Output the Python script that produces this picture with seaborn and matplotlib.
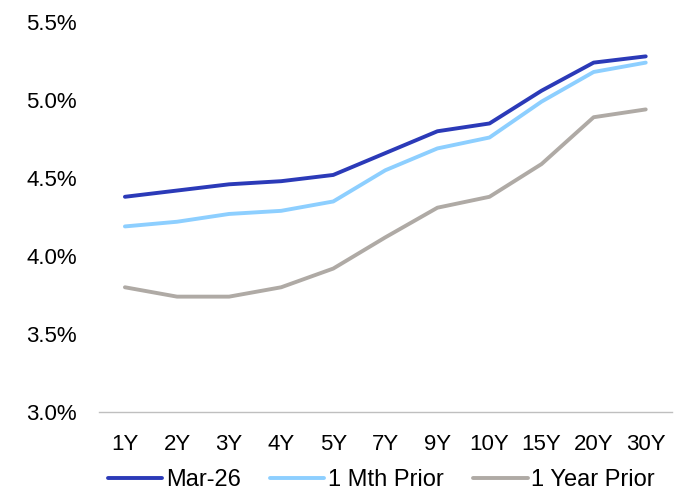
import matplotlib
matplotlib.use("Agg")
import matplotlib.pyplot as plt
import seaborn as sns
import pandas as pd
from matplotlib.ticker import FuncFormatter

tenors = ["1Y", "2Y", "3Y", "4Y", "5Y", "7Y", "9Y", "10Y", "15Y", "20Y", "30Y"]
mar_26 = [4.38, 4.42, 4.46, 4.48, 4.52, 4.66, 4.80, 4.85, 5.06, 5.24, 5.28]
one_mth_prior = [4.19, 4.22, 4.27, 4.29, 4.35, 4.55, 4.69, 4.76, 4.99, 5.18, 5.24]
one_year_prior = [3.80, 3.74, 3.74, 3.80, 3.92, 4.12, 4.31, 4.38, 4.59, 4.89, 4.94]
series_names = ["Mar-26", "1 Mth Prior", "1 Year Prior"]
series_colors = ["#2B3AB8", "#8DCFFF", "#AFAAA5"]

frames = []
for name, vals in zip(series_names, [mar_26, one_mth_prior, one_year_prior]):
    frames.append(pd.DataFrame({"tenor": tenors, "yield": vals, "series": name}))
df = pd.concat(frames, ignore_index=True)

sns.set_style("white")
plt.rcParams["font.family"] = ["Liberation Sans", "DejaVu Sans"]
plt.rcParams["text.color"] = "#000000"

fig = plt.figure(figsize=(6.82, 4.90), dpi=100)
ax = fig.add_axes([0.145, 0.159, 0.840, 0.796])

sns.lineplot(data=df, x="tenor", y="yield", hue="series", hue_order=series_names,
             palette=series_colors, linewidth=2.8, sort=False, ax=ax,
             solid_capstyle="round")

ax.set_ylim(3.0, 5.5)
ax.set_yticks([3.0, 3.5, 4.0, 4.5, 5.0, 5.5])
ax.yaxis.set_major_formatter(FuncFormatter(lambda v, _: f"{v:.1f}%"))
ax.set_xlim(-0.5, len(tenors) - 0.5)
ax.set_xlabel("")
ax.set_ylabel("")

for s in ["top", "right", "left"]:
    ax.spines[s].set_visible(False)
ax.spines["bottom"].set_color("#BFBFBF")
ax.spines["bottom"].set_linewidth(1.0)
ax.tick_params(axis="both", length=0, labelsize=16, colors="#000000")
ax.tick_params(axis="y", pad=16)
ax.tick_params(axis="x", pad=15.5)
ax.grid(False)

leg = ax.legend(loc="upper center", bbox_to_anchor=(0.493, -0.122), ncol=3, frameon=False,
                fontsize=17, handlelength=2.3, handletextpad=0.15, columnspacing=1.25,
                borderaxespad=0)
for t in leg.get_texts():
    t.set_color("#000000")

fig.savefig("out.png", dpi=100)
